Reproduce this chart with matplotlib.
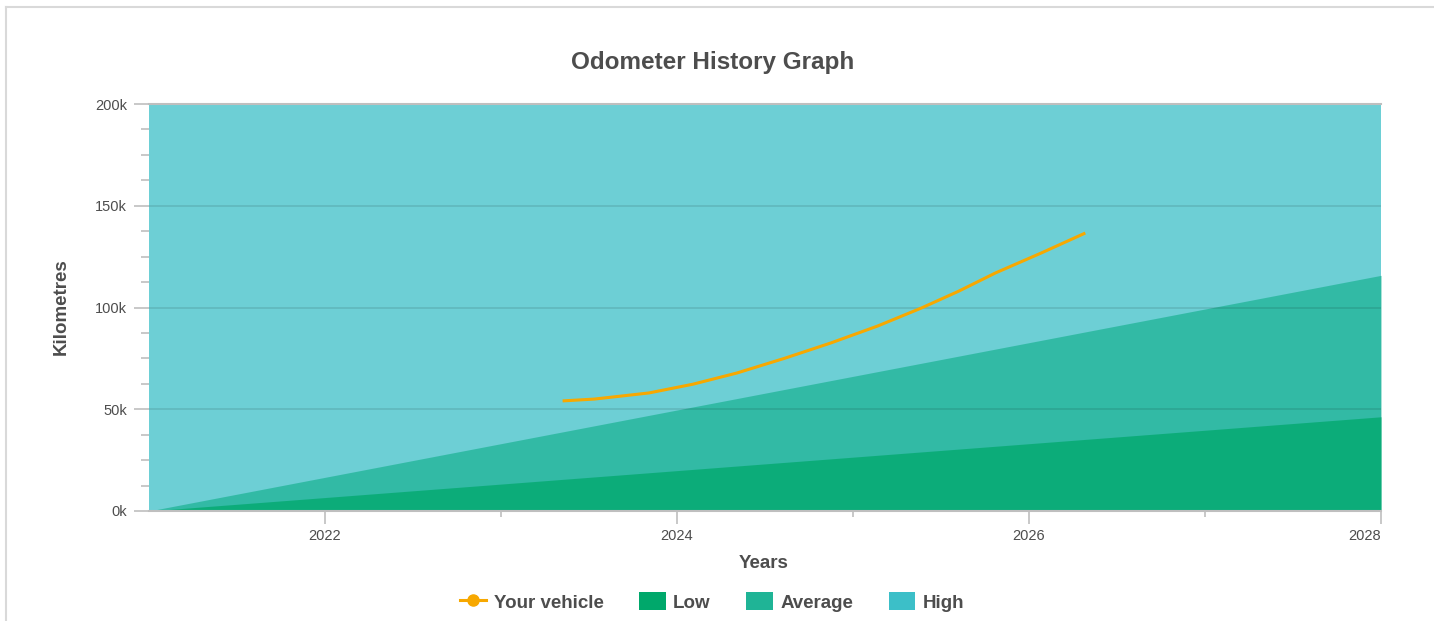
import numpy as np
import matplotlib
matplotlib.use("Agg")
import matplotlib.pyplot as plt
from matplotlib.patches import Patch
from matplotlib.lines import Line2D
from matplotlib.ticker import MultipleLocator, FuncFormatter

plt.rcParams['font.family'] = ['Liberation Sans', 'DejaVu Sans']

# ---------------------------------------------------------------- data
band_years = [2021.0, 2028.0]
low_km = [0, 46300]
average_km = [0, 115800]
high_km = [200000, 200000]

vehicle_years = [2023.35, 2023.53, 2023.84, 2024.09, 2024.34, 2024.61, 2024.875,
                 2025.14, 2025.39, 2025.60, 2025.81, 2026.07, 2026.32]
vehicle_km = [54100, 55000, 58000, 62300, 67800, 75000, 82600,
              90900, 99800, 108000, 117000, 126800, 136600]

year_ticks = [2022, 2024, 2026, 2028]
year_minor = [2023, 2025, 2027]

# ---------------------------------------------------------------- colours
c_low = '#00a86b'
c_avg = '#1fb496'
c_high = '#3cbfc8'
c_vehicle = '#f7a800'
c_text = '#4d4d4d'
c_axis = '#bfbfbf'

fig = plt.figure(figsize=(14.34, 6.21), dpi=100)
W, H = 1434, 621
ax = fig.add_axes([149 / W, 1 - 511 / H, (1381 - 149) / W, (511 - 104) / H])

ax.fill_between(band_years, 0, high_km, color=c_high, alpha=0.75, lw=0, zorder=1)
ax.fill_between(band_years, 0, average_km, color=c_avg, alpha=0.75, lw=0, zorder=2)
ax.fill_between(band_years, 0, low_km, color=c_low, alpha=0.75, lw=0, zorder=3)

for v in [50000, 100000, 150000]:
    ax.axhline(v, color='#000000', alpha=0.1, lw=1.3, zorder=4)

ax.plot(vehicle_years, vehicle_km, color=c_vehicle, lw=2.2, zorder=5,
        solid_capstyle='butt', solid_joinstyle='round')

ax.set_xlim(2021.0, 2028.0)
ax.set_ylim(0, 200000)

# y axis
ax.yaxis.set_major_locator(MultipleLocator(50000))
ax.yaxis.set_minor_locator(MultipleLocator(12500))
ax.yaxis.set_major_formatter(FuncFormatter(lambda v, p: f"{int(v / 1000)}k"))
ax.tick_params(axis='y', which='major', length=10.8, width=1.2, color=c_axis,
               pad=5, labelsize=10.5, labelcolor=c_text)
ax.tick_params(axis='y', which='minor', length=5.8, width=1.2, color=c_axis)

# x axis
ax.set_xticks(year_ticks)
ax.set_xticklabels([str(y) for y in year_ticks])
ax.set_xticks(year_minor, minor=True)
ax.tick_params(axis='x', which='major', length=9, width=1.2, color=c_axis,
               pad=4, labelsize=10.5, labelcolor=c_text)
ax.tick_params(axis='x', which='minor', length=4.5, width=1.2, color=c_axis)
ax.get_xticklabels()[-1].set_horizontalalignment('right')

for side in ['left', 'right']:
    ax.spines[side].set_visible(False)
for side in ['top', 'bottom']:
    ax.spines[side].set_color(c_axis)
    ax.spines[side].set_linewidth(1.5)
    ax.spines[side].set_zorder(6)

# titles
fig.text(713 / W, 1 - 62 / H, "Odometer History Graph", ha='center', va='center',
         fontsize=17.5, fontweight='bold', color=c_text)
fig.text(61 / W, 1 - 307 / H, "Kilometres", ha='center', va='center', rotation=90,
         fontsize=13.5, fontweight='bold', color=c_text)
fig.text(764 / W, 1 - 564 / H, "Years", ha='center', va='center',
         fontsize=13.5, fontweight='bold', color=c_text)

# legend
handles = [
    Line2D([], [], color=c_vehicle, lw=2.2, marker='o', markersize=8),
    Patch(facecolor=c_low, edgecolor='none'),
    Patch(facecolor=c_avg, edgecolor='none'),
    Patch(facecolor=c_high, edgecolor='none'),
]
labels = ["Your vehicle", "Low", "Average", "High"]
leg = fig.legend(handles, labels, loc='center', bbox_to_anchor=(712 / W, 1 - 602 / H),
                 ncol=4, frameon=False, handlelength=1.4, handleheight=1.05,
                 handletextpad=0.4, columnspacing=1.9,
                 prop={'weight': 'bold', 'size': 13.5})
for t in leg.get_texts():
    t.set_color(c_text)

# outer frame (left and top)
fig.add_artist(Line2D([6 / W, 6 / W], [0, 1 - 7 / H], color='#d9d9d9', lw=1.5))
fig.add_artist(Line2D([6 / W, 1], [1 - 7 / H, 1 - 7 / H], color='#d9d9d9', lw=1.5))

fig.savefig("out.png", dpi=100)
